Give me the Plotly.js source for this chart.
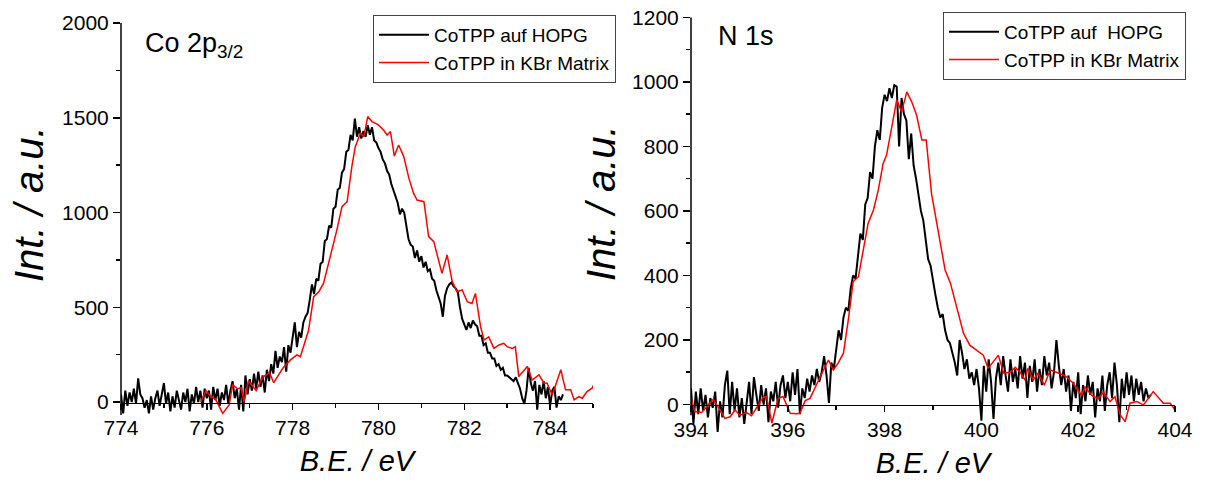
<!DOCTYPE html>
<html>
<head>
<meta charset="utf-8">
<script src="https://cdn.plot.ly/plotly-3.0.1.min.js"></script>
<style>html,body{margin:0;padding:0;background:#fff}#chart{width:1205px;height:483px}</style>
</head>
<body>
<div id="chart"></div>
<script>
// ---------- Co 2p3/2 : CoTPP auf HOPG ----------
const coHopgX = [
774,774.05,774.1,774.15,774.2,774.25,774.3,774.35,774.4,774.45,774.5,774.55,774.6,774.65,774.7,774.75,774.8,774.85,774.9,774.95,
775,775.05,775.1,775.15,775.2,775.25,775.3,775.35,775.4,775.45,775.5,775.55,775.6,775.65,775.7,775.75,775.8,775.85,775.9,775.95,
776,776.05,776.1,776.15,776.2,776.25,776.3,776.35,776.4,776.45,776.5,776.55,776.6,776.65,776.7,776.75,776.8,776.85,776.9,776.95,
777,777.05,777.1,777.15,777.2,777.25,777.3,777.35,777.4,777.45,777.5,777.55,777.6,777.65,777.7,777.75,777.8,777.85,777.9,777.95,
778,778.05,778.1,778.15,778.2,778.25,778.3,778.35,778.4,778.45,778.5,778.55,778.6,778.65,778.7,778.75,778.8,778.85,778.9,778.95,
779,779.05,779.1,779.15,779.2,779.25,779.3,779.35,779.4,779.45,779.5,779.55,779.6,779.65,779.7,779.75,779.8,779.85,779.9,779.95,
780,780.05,780.1,780.15,780.2,780.25,780.3,780.35,780.4,780.45,780.5,780.55,780.6,780.65,780.7,780.75,780.8,780.85,780.9,780.95,
781,781.05,781.1,781.15,781.2,781.25,781.3,781.35,781.4,781.45,781.5,781.55,781.6,781.65,781.7,781.75,781.8,781.85,781.9,781.95,
782,782.05,782.1,782.15,782.2,782.25,782.3,782.35,782.4,782.45,782.5,782.55,782.6,782.65,782.7,782.75,782.8,782.85,782.9,782.95,
783,783.05,783.1,783.15,783.2,783.25,783.3,783.35,783.4,783.45,783.5,783.55,783.6,783.65,783.7,783.75,783.8,783.85,783.9,783.95,
784,784.05,784.1,784.15,784.2,784.25,784.3];
const coHopgY = [
40,-60,60,-20,50,0,70,-10,125,40,20,-30,10,-60,30,-40,20,60,-20,40,
100,-10,50,-50,30,-30,60,10,-40,50,0,70,-50,40,-10,80,0,60,-30,70,
20,60,-40,80,10,70,-20,50,10,90,-10,60,110,20,70,-40,90,-50,140,40,
120,60,150,70,160,80,140,50,170,110,200,150,270,180,240,210,290,160,300,260,
330,420,290,370,340,420,450,470,540,620,570,650,640,730,740,850,860,930,920,1020,
1030,1120,1130,1210,1230,1320,1330,1410,1380,1495,1400,1450,1390,1430,1400,1460,1410,1450,1380,1370,
1340,1320,1280,1260,1220,1200,1150,1120,1080,1050,990,1020,1000,930,860,830,820,760,800,740,
770,710,740,690,700,650,640,590,560,520,450,560,600,620,630,610,600,580,500,440,
410,380,420,390,430,410,400,350,350,300,310,260,260,230,230,190,200,170,180,140,
140,130,120,110,130,100,70,20,-10,60,180,100,60,110,-40,90,40,110,20,80,
-20,60,80,-30,30,10,40];

// ---------- Co 2p3/2 : CoTPP in KBr Matrix ----------
const coKbrX = [775.86,775.98,776.1,776.2,776.37,776.52,776.6,776.72,776.8,776.87,776.97,777.15,777.3,777.46,777.56,777.77,777.95,778.1,778.18,778.37,
778.49,778.61,778.72,778.92,779.03,779.15,779.27,779.38,779.46,779.58,779.66,779.75,779.85,780,780.12,780.2,780.28,780.37,780.47,780.59,
780.71,780.82,780.9,781.06,781.17,781.29,781.48,781.6,781.72,781.83,781.95,782.07,782.18,782.26,782.38,782.46,782.57,782.69,782.81,782.92,
783,783.12,783.19,783.27,783.47,783.58,783.74,783.86,783.93,784.05,784.25,784.36,784.48,784.56,784.67,784.75,784.86,784.98,785.05];
const coKbrY = [0,60,28,15,-60,-16,90,70,75,0,112,60,130,155,102,178,222,248,239,377,
556,582,626,802,907,1031,1057,1242,1347,1418,1400,1506,1480,1462,1435,1409,1427,1298,1356,1295,
1180,1101,1066,1057,873,846,679,776,635,582,591,529,520,573,397,327,344,283,301,310,
292,283,292,134,187,116,143,99,99,37,170,64,64,11,28,20,55,73,108];

// ---------- N 1s : CoTPP auf HOPG ----------
const nHopgX = [
394,394.05,394.1,394.15,394.2,394.25,394.3,394.35,394.4,394.45,394.5,394.55,394.6,394.65,394.7,394.75,394.8,394.85,394.9,394.95,
395,395.05,395.1,395.15,395.2,395.25,395.3,395.35,395.4,395.45,395.5,395.55,395.6,395.65,395.7,395.75,395.8,395.85,395.9,395.95,
396,396.05,396.1,396.15,396.2,396.25,396.3,396.35,396.4,396.45,396.5,396.55,396.6,396.65,396.7,396.75,396.8,396.85,396.9,396.95,
397,397.05,397.1,397.15,397.2,397.25,397.3,397.35,397.4,397.45,397.5,397.55,397.6,397.65,397.7,397.75,397.8,397.85,397.9,397.95,
398,398.05,398.1,398.15,398.2,398.25,398.3,398.35,398.4,398.45,398.5,398.55,398.6,398.65,398.7,398.75,398.8,398.85,398.9,398.95,
399,399.05,399.1,399.15,399.2,399.25,399.3,399.35,399.4,399.45,399.5,399.55,399.6,399.65,399.7,399.75,399.8,399.85,399.9,399.95,
400,400.05,400.1,400.15,400.2,400.25,400.3,400.35,400.4,400.45,400.5,400.55,400.6,400.65,400.7,400.75,400.8,400.85,400.9,400.95,
401,401.05,401.1,401.15,401.2,401.25,401.3,401.35,401.4,401.45,401.5,401.55,401.6,401.65,401.7,401.75,401.8,401.85,401.9,401.95,
402,402.05,402.1,402.15,402.2,402.25,402.3,402.35,402.4,402.45,402.5,402.55,402.6,402.65,402.7,402.75,402.8,402.85,402.9,402.95,
403,403.05,403.1,403.15,403.2,403.25,403.3,403.35,403.4,403.45,403.5];
const nHopgY = [
50,-60,40,-30,50,-20,30,-40,20,-10,40,-85,10,-40,60,105,-30,70,-20,50,
-40,20,-60,10,70,-30,85,30,-20,60,0,50,-55,40,10,70,-10,60,90,20,
70,10,100,30,110,-30,50,20,80,40,90,60,110,70,100,150,90,5,130,110,
170,230,200,270,300,290,360,400,390,470,530,510,620,640,720,700,800,850,820,920,
960,940,980,950,990,985,800,950,900,880,760,840,740,700,650,600,570,510,450,430,
380,340,300,270,280,230,200,190,160,130,90,200,160,110,140,80,100,60,110,50,
-50,120,40,140,70,-45,80,130,60,150,90,40,140,70,110,50,150,80,130,20,
120,70,140,40,110,60,150,90,130,50,100,200,120,60,110,40,90,-20,70,20,
100,-30,60,10,90,30,70,-40,50,10,90,-20,60,100,20,130,60,-55,80,20,
100,30,90,10,80,30,70,10,50,20,30];

// ---------- N 1s : CoTPP in KBr Matrix ----------
const nKbrX = [394,394.08,394.22,394.32,394.46,394.56,394.7,394.81,394.91,395.01,395.15,395.25,395.36,395.49,395.56,395.67,395.8,395.9,396.05,396.18,
396.25,396.36,396.46,396.6,396.67,396.84,396.94,397.04,397.15,397.25,397.35,397.46,397.56,397.66,397.77,397.87,397.97,398.04,398.15,398.25,
398.35,398.46,398.56,398.66,398.77,398.86,398.97,399.11,399.25,399.36,399.49,399.63,399.76,399.9,400.04,400.14,400.35,400.46,400.59,400.7,
400.8,400.9,400.96,401.07,401.17,401.3,401.42,401.62,401.76,401.9,402.07,402.14,402.28,402.41,402.52,402.66,402.76,402.87,402.97,403.07,
403.21,403.35,403.55,403.76,403.9,403.97,404.07];
const nKbrY = [20,-22,-25,-7,16,-7,-43,-38,-17,-33,-25,-35,-7,22,25,-58,19,25,-27,-29,
-27,12,19,66,86,138,107,128,159,262,381,396,479,562,603,665,747,773,861,944,
907,969,938,897,820,820,653,541,417,376,303,221,184,169,153,112,153,97,100,115,
100,76,112,76,97,60,107,96,86,65,28,54,28,18,38,9,24,-33,-53,4,
9,-1,40,4,4,-10,-33];

// ---------- texts ----------
const seriesNamesCo = ["CoTPP auf HOPG", "CoTPP in KBr Matrix"];
const seriesNamesN  = ["CoTPP auf\u00a0 HOPG", "CoTPP in KBr Matrix"];
const panelLabels = ["Co 2p<sub>3/2</sub>", "N 1s"];
const xTitle = "B.E. / eV";
const yTitle = "Int. / a.u.";

const FONT = 'Arial, "Liberation Sans", sans-serif';
const W = 1205, H = 483;
const px = v => v / W;
const py = v => 1 - v / H;

const traces = [
  {x: coHopgX, y: coHopgY, name: seriesNamesCo[0], type: 'scatter', mode: 'lines',
   line: {color: '#000000', width: 2}, xaxis: 'x', yaxis: 'y', legend: 'legend'},
  {x: coKbrX, y: coKbrY, name: seriesNamesCo[1], type: 'scatter', mode: 'lines',
   line: {color: '#ff0000', width: 1.5}, xaxis: 'x', yaxis: 'y', legend: 'legend'},
  {x: nHopgX, y: nHopgY, name: seriesNamesN[0], type: 'scatter', mode: 'lines',
   line: {color: '#000000', width: 2}, xaxis: 'x2', yaxis: 'y2', legend: 'legend2'},
  {x: nKbrX, y: nKbrY, name: seriesNamesN[1], type: 'scatter', mode: 'lines',
   line: {color: '#ff0000', width: 1.5}, xaxis: 'x2', yaxis: 'y2', legend: 'legend2'}
];

function xAxis(domain, range, tick0, pos) {
  return {
    domain: domain, range: range, anchor: 'free', position: pos,
    showline: true, linecolor: '#000', linewidth: 1.5,
    ticks: 'outside', ticklen: 6, tickwidth: 1.5, tickcolor: '#000',
    tickmode: 'linear', tick0: tick0, dtick: 2,
    minor: {ticks: 'outside', ticklen: 4, tickwidth: 1.5, tickcolor: '#000', tickmode: 'linear', tick0: tick0, dtick: 1, showgrid: false},
    showgrid: false, zeroline: false,
    tickfont: {family: FONT, size: 21, color: '#000'},
    title: {text: xTitle, font: {family: FONT, size: 29, style: 'italic', color: '#000'}, standoff: 12}
  };
}
function yAxis(domain, range, dtick, anchor) {
  return {
    domain: domain, range: range, anchor: anchor,
    showline: false,
    ticks: 'outside', ticklen: 7, tickwidth: 1.5, tickcolor: '#000',
    tickmode: 'linear', tick0: 0, dtick: dtick,
    minor: {ticks: 'outside', ticklen: 4, tickwidth: 1.5, tickcolor: '#000', tickmode: 'linear', tick0: 0, dtick: dtick / 2, showgrid: false},
    showgrid: false, zeroline: false,
    tickfont: {family: FONT, size: 21, color: '#000'}
  };
}

const legendStyle = {
  xanchor: 'left', yanchor: 'top',
  bgcolor: '#fff', bordercolor: '#444', borderwidth: 1,
  font: {family: FONT, size: 19, color: '#000'}, itemwidth: 50, tracegroupgap: 0
};

const layout = {
  width: W, height: H,
  margin: {l: 0, r: 0, t: 0, b: 0},
  paper_bgcolor: '#ffffff', plot_bgcolor: 'rgba(0,0,0,0)',
  font: {family: FONT, color: '#000', size: 21},
  showlegend: true,
  xaxis: xAxis([px(121), px(593)], [774, 785], 774, py(402.5)),
  yaxis: yAxis([py(425), py(23)], [-121.4, 2000], 500, 'x'),
  xaxis2: xAxis([px(691), px(1175)], [394, 404], 394, py(404.5)),
  yaxis2: yAxis([py(435), py(17.3)], [-94.5, 1200], 200, 'x2'),
  legend: Object.assign({x: px(373), y: py(15)}, legendStyle),
  legend2: Object.assign({x: px(943), y: py(12)}, legendStyle),
  shapes: [
    {type: 'line', xref: 'x domain', yref: 'y', x0: 0, x1: 0, y0: -68, y1: 2000, line: {color: '#000', width: 1.5}},
    {type: 'line', xref: 'x2 domain', yref: 'y2', x0: 0, x1: 0, y0: -33, y1: 1200, line: {color: '#000', width: 1.5}}
  ],
  annotations: [
    {text: yTitle, xref: 'paper', yref: 'paper', x: px(29), y: py(204), textangle: -90,
     showarrow: false, xanchor: 'center', yanchor: 'middle', font: {family: FONT, size: 40, style: 'italic', color: '#000'}},
    {text: yTitle, xref: 'paper', yref: 'paper', x: px(601), y: py(203), textangle: -90,
     showarrow: false, xanchor: 'center', yanchor: 'middle', font: {family: FONT, size: 40, style: 'italic', color: '#000'}},
    {text: panelLabels[0], xref: 'paper', yref: 'paper', x: px(143), y: py(45),
     showarrow: false, xanchor: 'left', yanchor: 'middle', font: {family: FONT, size: 27, color: '#000'}},
    {text: panelLabels[1], xref: 'paper', yref: 'paper', x: px(716), y: py(36),
     showarrow: false, xanchor: 'left', yanchor: 'middle', font: {family: FONT, size: 27, color: '#000'}}
  ]
};

Plotly.newPlot('chart', traces, layout, {displayModeBar: false, staticPlot: true});
</script>
</body>
</html>
